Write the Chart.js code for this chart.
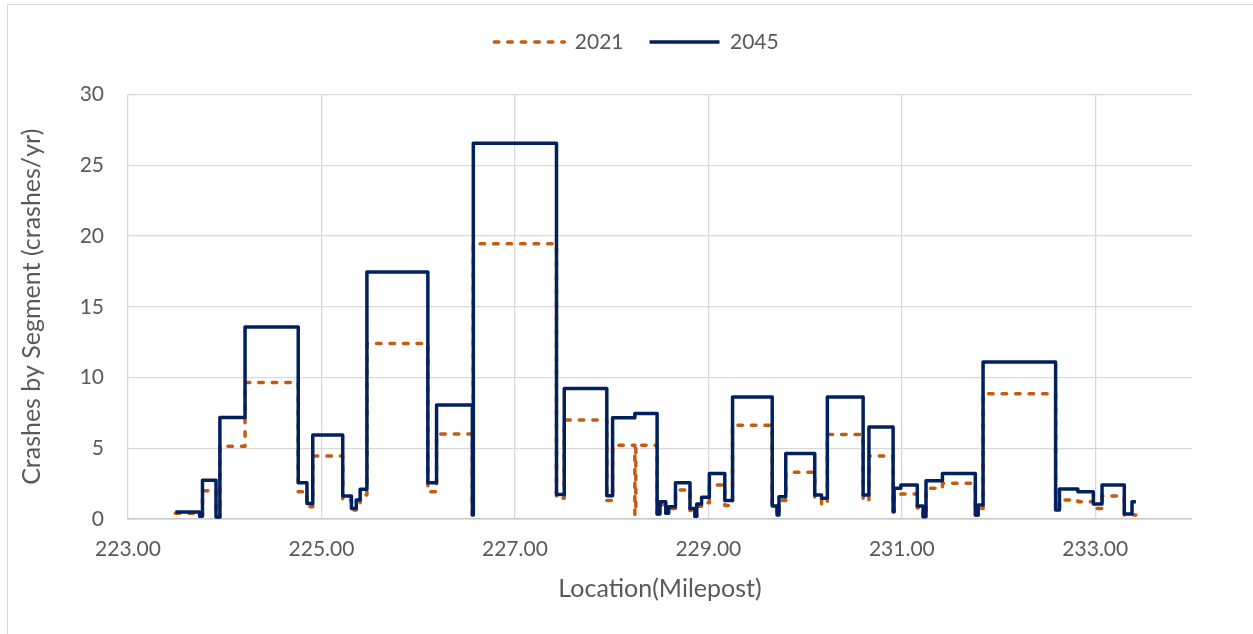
<!DOCTYPE html>
<html>
<head>
<meta charset="utf-8">
<title>Crashes by Segment</title>
<script src="https://cdn.jsdelivr.net/npm/chart.js@4.4.1/dist/chart.umd.min.js"></script>
<style>
  html, body { margin: 0; padding: 0; background: #ffffff; overflow: hidden; }
  #wrap { position: relative; width: 1253px; height: 634px; overflow: hidden; }
  #frame { position: absolute; left: 7px; top: 4px; width: 1280px; height: 660px; border: 1px solid #d9d9d9; box-sizing: border-box; pointer-events: none; }
  canvas { position: absolute; left: 0; top: 0; }
</style>
</head>
<body>
<div id="wrap">
  <div id="frame"></div>
  <canvas id="chart" width="1253" height="634"></canvas>
</div>
<script>
// Segment boundaries along the corridor (milepost); the last entry closes the final segment.
const milepostBreaks = [
  223.49, 223.74, 223.77, 223.91, 223.95, 224.21, 224.76, 224.85, 224.91, 225.22,
  225.31, 225.36, 225.40, 225.47, 226.10, 226.19, 226.56, 226.57, 227.43, 227.51,
  227.95, 228.01, 228.24, 228.25, 228.47, 228.50, 228.56, 228.59, 228.66, 228.81,
  228.86, 228.88, 228.93, 229.01, 229.17, 229.25, 229.66, 229.71, 229.73, 229.80,
  230.10, 230.17, 230.23, 230.60, 230.66, 230.91, 230.92, 230.99, 231.16, 231.22,
  231.25, 231.42, 231.76, 231.79, 231.84, 232.59, 232.63, 232.82, 232.98, 233.07,
  233.30, 233.38, 233.42
];

// Crashes per year for each segment (one value per segment).
const crashes2021 = [
  0.40, 0.28, 2.00, 0.15, 5.15, 9.65, 1.93, 0.87, 4.45, 1.34,
  0.64, 0.99, 1.69, 12.40, 1.93, 6.00, 0.28, 19.45, 1.46, 6.99,
  1.30, 5.22, 0.30, 5.22, 0.35, 1.00, 0.40, 0.75, 2.05, 0.60,
  0.20, 0.90, 1.15, 2.40, 0.95, 6.63, 0.87, 0.28, 1.30, 3.30,
  1.46, 1.06, 5.98, 1.30, 4.45, 0.52, 1.57, 1.76, 0.78, 0.16,
  2.17, 2.52, 0.28, 0.75, 8.85, 0.64, 1.34, 1.22, 0.75, 1.62,
  0.28, 0.28
];

const crashes2045 = [
  0.49, 0.20, 2.73, 0.15, 7.17, 13.57, 2.56, 1.10, 5.93, 1.62,
  0.75, 1.34, 2.10, 17.45, 2.56, 8.05, 0.28, 26.56, 1.74, 9.22,
  1.65, 7.15, 7.46, 7.46, 0.35, 1.22, 0.40, 0.87, 2.56, 0.75,
  0.20, 1.06, 1.53, 3.22, 1.30, 8.63, 0.92, 0.28, 1.57, 4.63,
  1.69, 1.46, 8.63, 1.70, 6.50, 0.52, 2.17, 2.40, 0.92, 0.16,
  2.70, 3.22, 0.28, 0.99, 11.10, 0.64, 2.12, 1.93, 1.06, 2.40,
  0.35, 1.22
];

const seriesLabels = ['2021', '2045'];
const xTickValues = [223, 225, 227, 229, 231, 233];
const yTickValues = [0, 5, 10, 15, 20, 25, 30];

// Step outline: a segment's value sits on its starting boundary and is held
// until the next boundary; the closing boundary repeats the last value.
function stepPoints(values) {
  return milepostBreaks.map((mp, i) => ({ x: mp, y: values[Math.min(i, values.length - 1)] }));
}

const textColor = '#595959';
const gridColor = '#d9d9d9';
const fontFamily = 'Lato, "Open Sans", "Liberation Sans", sans-serif';

new Chart(document.getElementById('chart'), {
  type: 'line',
  data: {
    datasets: [
      {
        label: seriesLabels[0],
        data: stepPoints(crashes2021),
        stepped: 'before',
        order: 1,
        borderColor: '#c55a11',
        backgroundColor: '#c55a11',
        borderWidth: 3.5,
        borderDash: [4.5, 9],
        borderCapStyle: 'round',
        borderJoinStyle: 'round',
        pointRadius: 0,
        fill: false
      },
      {
        label: seriesLabels[1],
        data: stepPoints(crashes2045),
        stepped: 'before',
        order: 0,
        borderColor: '#002060',
        backgroundColor: '#002060',
        borderWidth: 3.5,
        borderCapStyle: 'butt',
        borderJoinStyle: 'round',
        pointRadius: 0,
        fill: false
      }
    ]
  },
  options: {
    responsive: false,
    animation: false,
    events: [],
    layout: { padding: { top: 5.5, left: 81, right: 61, bottom: 0 } },
    plugins: {
      legend: {
        position: 'top',
        weight: 3000,
        labels: {
          usePointStyle: true,
          pointStyle: 'line',
          pointStyleWidth: 70,
          padding: 26,
          color: textColor,
          font: { family: fontFamily, size: 21 },
          sort: (a, b) => a.datasetIndex - b.datasetIndex,
          generateLabels: (chart) => {
            const items = Chart.defaults.plugins.legend.labels.generateLabels(chart);
            return items.map((item) => {
              const ds = chart.data.datasets[item.datasetIndex];
              return Object.assign(item, {
                lineWidth: ds.borderWidth,
                lineDash: ds.borderDash || [],
                lineCap: ds.borderCapStyle,
                strokeStyle: ds.borderColor,
                fillStyle: ds.backgroundColor,
                pointStyle: 'line'
              });
            });
          }
        }
      },
      // empty spacer between the legend row and the plot area
      title: {
        display: true,
        text: '',
        font: { size: 10 },
        padding: { top: 20, bottom: 0 }
      },
      tooltip: { enabled: false }
    },
    scales: {
      x: {
        type: 'linear',
        min: 223,
        max: 234,
        afterBuildTicks: (scale) => { scale.ticks = xTickValues.map((v) => ({ value: v })); },
        afterFit: (scale) => { scale.height = 115; },
        ticks: {
          autoSkip: false,
          maxRotation: 0,
          padding: 18,
          color: textColor,
          font: { family: fontFamily, size: 21 },
          callback: (v) => Number(v).toFixed(2)
        },
        grid: { color: gridColor, lineWidth: 1.3, drawTicks: false },
        border: { color: '#c8c8c8', width: 1.6 },
        title: {
          display: true,
          text: 'Location(Milepost)',
          color: textColor,
          font: { family: fontFamily, size: 25 },
          padding: { top: 0, bottom: 30 }
        }
      },
      y: {
        min: 0,
        max: 30,
        afterBuildTicks: (scale) => { scale.ticks = yTickValues.map((v) => ({ value: v })); },
        afterFit: (scale) => { scale.width = 47; },
        ticks: {
          padding: 24,
          color: textColor,
          font: { family: fontFamily, size: 21 }
        },
        grid: { color: gridColor, lineWidth: 1.3, drawTicks: false },
        border: { display: false },
        title: {
          display: true,
          text: 'Crashes by Segment (crashes/yr)',
          color: textColor,
          font: { family: fontFamily, size: 25 },
          padding: { top: -64, bottom: 0 }
        }
      }
    }
  }
});
</script>
</body>
</html>
